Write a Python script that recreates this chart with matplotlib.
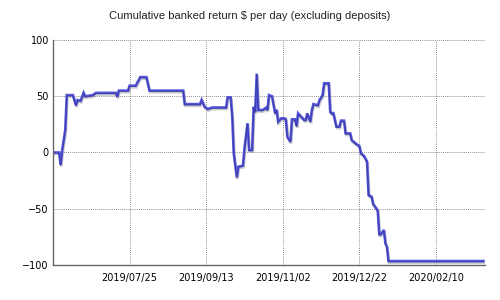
import matplotlib
matplotlib.use("Agg")
import matplotlib.pyplot as plt
import matplotlib.patheffects as pe
import matplotlib.transforms as mtransforms
import pandas as pd

title = "Cumulative banked return \\$ per day (excluding deposits)"
start_date = "2019-06-05"
end_date = "2020-03-13"
tick_dates = ["2019-07-25", "2019-09-13", "2019-11-02", "2019-12-22", "2020-02-10"]
tick_labels = ["2019/07/25", "2019/09/13", "2019/11/02", "2019/12/22", "2020/02/10"]
y_ticks = [-100, -50, 0, 50, 100]

# days since start_date
day_offsets = [1, 4, 5, 6, 8, 9, 13, 15, 16, 18, 20, 21, 26, 28, 41, 42, 43, 49, 50,
               54, 55, 57, 61, 63, 85, 86, 96, 97, 99, 101, 104, 113, 114, 116, 117,
               118, 120, 121, 124, 125, 127, 128, 130, 131, 132, 133, 134, 137, 139,
               140, 141, 143, 145, 146, 147, 149, 151, 152, 153, 155, 156, 158, 159,
               160, 162, 164, 165, 166, 168, 169, 170, 173, 174, 176, 177, 180, 181,
               182, 183, 185, 187, 188, 190, 191, 194, 195, 197, 198, 200, 201, 203,
               205, 206, 208, 209, 210, 212, 213, 214, 216, 217, 218, 219, 281]
values = [0, 0, -11, 2, 20, 51, 51, 42, 46.6, 46, 53, 50, 51, 53, 53, 49.6, 55, 55, 59.4,
          59.4, 62, 67, 67, 55, 55, 43, 43, 46.7, 40.7, 38.7, 40, 40, 49, 49, 32,
          -0.7, -22, -12.6, -11.7, 3.7, 26, 2.2, 2.2, 40.7, 36, 70, 37.8, 37.8, 39.8,
          37.8, 51, 50, 34.8, 38, 27.4, 30.4, 30.4, 29.6, 14, 9.6, 29.5, 29.5, 23.5,
          34.8, 31.8, 28.9, 28.9, 34.8, 27.4, 37.8, 43, 42, 46.7, 51, 61.5, 61.5, 36,
          34.8, 35, 23, 23, 28.3, 28.3, 17, 17, 11, 8.7, 7.6, 5.8, -0.7, -3,
          -8, -37.8, -39.3, -45.8, -47.6, -51.7, -72.7, -72.7, -68.9, -80.7, -83.7, -96.5, -96.5]

dates = pd.Timestamp(start_date) + pd.to_timedelta(day_offsets, unit="D")

fig = plt.figure(figsize=(5, 3), dpi=100)
ax = fig.add_axes([0.106, 0.1167, 0.864, 0.75])

ax.plot(dates, values, color="#5656dc", lw=1.9, solid_joinstyle="miter",
        path_effects=[pe.SimpleLineShadow(offset=(0.5, -1.2), shadow_color="#999999", alpha=0.5),
                      pe.Normal()])
ax.plot(dates, values, color="#2a2a8a", lw=0.7, alpha=0.6,
        transform=ax.transData + mtransforms.ScaledTranslation(0, -0.5 / 72, fig.dpi_scale_trans))

ax.set_xlim(pd.Timestamp(start_date), pd.Timestamp(end_date))
ax.set_ylim(-100, 100)
ax.set_yticks(y_ticks)
ax.set_xticks(pd.to_datetime(tick_dates))
ax.set_xticklabels(tick_labels)

for s in ["top", "right"]:
    ax.spines[s].set_visible(False)
for s in ["left", "bottom"]:
    ax.spines[s].set_color("#666666")
    ax.spines[s].set_linewidth(1.0)

ax.grid(True, linestyle=(0, (1, 1.5)), color="#666666", linewidth=0.6)
ax.set_axisbelow(True)
ax.tick_params(axis="both", length=0, labelsize=7, colors="black")
ax.tick_params(axis="y", pad=3)
ax.tick_params(axis="x", pad=6)

fig.text(0.5, 1 - 16 / 300, title, ha="center", va="center", fontsize=8,
         family="Liberation Sans", color="#222222")

fig.savefig("out.png", dpi=100)
